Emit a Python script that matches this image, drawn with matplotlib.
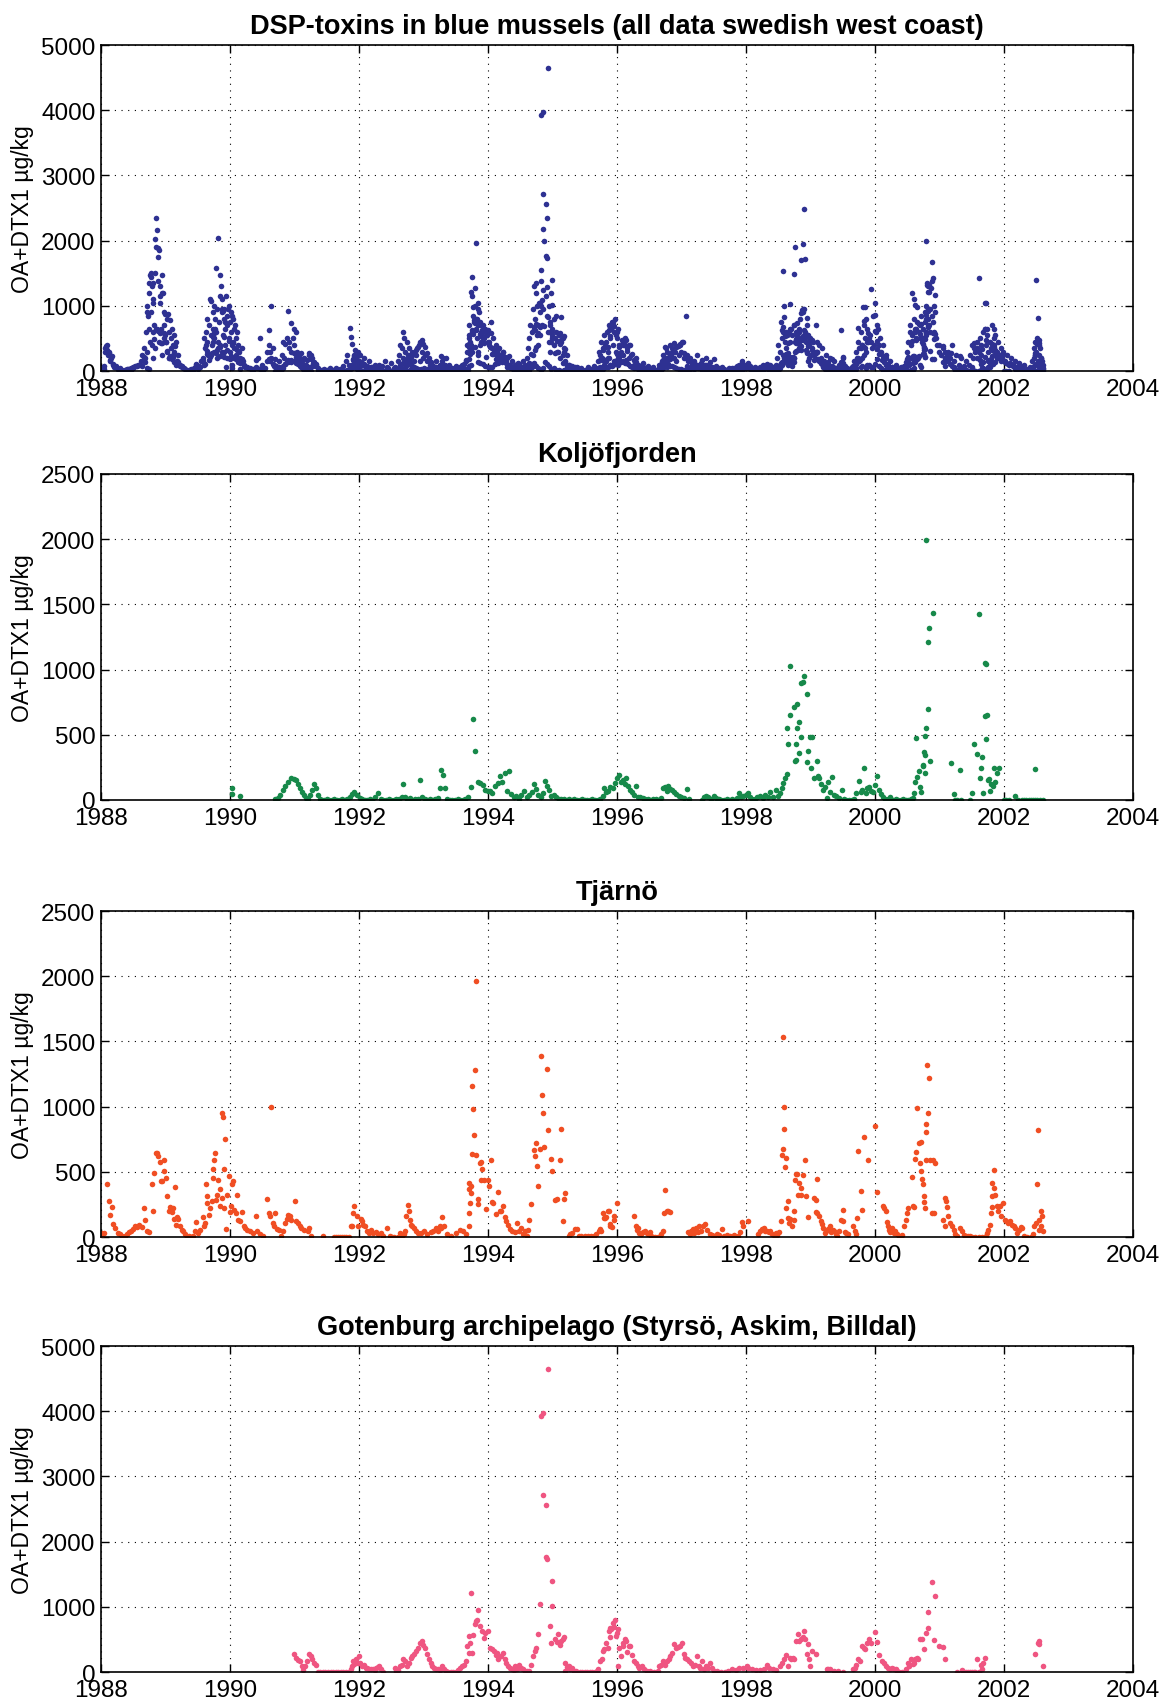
import numpy as np
import matplotlib.pyplot as plt

# values: (decimal year, OA+DTX1 ug/kg)
koljo = [
    (1990.03, 89), (1990.03, 48), (1990.15, 33),
    (1990.70, 5), (1990.74, 15), (1990.78, 40), (1990.82, 75), (1990.86, 110), (1990.90, 140),
    (1990.95, 172), (1990.99, 160), (1991.03, 150), (1991.06, 125), (1991.09, 90), (1991.12, 60),
    (1991.15, 40), (1991.18, 15), (1991.21, 5), (1991.24, 40), (1991.27, 80), (1991.30, 120),
    (1991.33, 95), (1991.36, 40), (1991.39, 10), (1991.42, 0), (1991.46, 0), (1991.50, 5),
    (1991.54, 0), (1991.58, 0), (1991.62, 10), (1991.66, 0), (1991.70, 0), (1991.74, 5),
    (1991.78, 0), (1991.82, 10), (1991.86, 25), (1991.89, 45), (1991.93, 60), (1991.97, 35),
    (1992.01, 15), (1992.05, 5), (1992.09, 0), (1992.13, 0), (1992.17, 5), (1992.21, 0),
    (1992.25, 20), (1992.30, 55), (1992.34, 10), (1992.38, 0), (1992.42, 0), (1992.46, 5),
    (1992.50, 0), (1992.54, 0), (1992.58, 10), (1992.62, 5), (1992.66, 25), (1992.68, 120),
    (1992.71, 20), (1992.75, 5), (1992.79, 15), (1992.83, 0), (1992.87, 5), (1992.91, 10),
    (1992.94, 150), (1992.98, 20), (1993.02, 5), (1993.06, 0), (1993.10, 10), (1993.14, 0),
    (1993.18, 5), (1993.22, 15), (1993.26, 90), (1993.28, 230), (1993.30, 195), (1993.33, 88),
    (1993.37, 5), (1993.41, 0), (1993.45, 0), (1993.49, 0), (1993.53, 5), (1993.57, 0),
    (1993.61, 0), (1993.65, 10), (1993.69, 20), (1993.73, 100), (1993.77, 620), (1993.80, 375),
    (1993.84, 140), (1993.88, 130), (1993.92, 115), (1993.96, 80), (1994.00, 65), (1994.03, 70),
    (1994.07, 55), (1994.11, 110), (1994.15, 130), (1994.18, 180), (1994.22, 140), (1994.26, 210),
    (1994.29, 70), (1994.32, 225), (1994.36, 45), (1994.40, 20), (1994.44, 30), (1994.48, 10),
    (1994.52, 40), (1994.56, 70), (1994.60, 20), (1994.64, 35), (1994.68, 60), (1994.71, 120),
    (1994.74, 85), (1994.78, 40), (1994.82, 20), (1994.86, 50), (1994.88, 145), (1994.91, 110),
    (1994.94, 75), (1994.98, 30), (1995.02, 40), (1995.06, 20), (1995.10, 10), (1995.14, 5),
    (1995.18, 10), (1995.22, 0), (1995.26, 5), (1995.30, 0), (1995.34, 10), (1995.38, 0),
    (1995.42, 0), (1995.46, 5), (1995.50, 0), (1995.54, 0), (1995.58, 0), (1995.62, 5),
    (1995.66, 0), (1995.70, 0), (1995.74, 5), (1995.78, 30), (1995.80, 90), (1995.83, 60),
    (1995.86, 70), (1995.90, 100), (1995.94, 95), (1995.97, 128), (1996.00, 166), (1996.03, 190),
    (1996.06, 140), (1996.09, 155), (1996.12, 120), (1996.14, 165), (1996.17, 110), (1996.20, 80),
    (1996.23, 60), (1996.26, 40), (1996.29, 107), (1996.32, 25), (1996.36, 20), (1996.40, 15),
    (1996.44, 10), (1996.48, 5), (1996.52, 0), (1996.56, 10), (1996.60, 5), (1996.64, 0),
    (1996.68, 15), (1996.72, 90), (1996.74, 100), (1996.77, 70), (1996.80, 105), (1996.83, 85),
    (1996.86, 75), (1996.89, 60), (1996.92, 45), (1996.96, 30), (1997.00, 25), (1997.04, 15),
    (1997.09, 84), (1997.12, 5),
    (1997.32, 0), (1997.35, 20), (1997.38, 30), (1997.42, 25), (1997.46, 10), (1997.50, 30),
    (1997.54, 15), (1997.58, 5), (1997.62, 0), (1997.66, 0), (1997.70, 5), (1997.74, 0),
    (1997.78, 10), (1997.82, 0), (1997.86, 15), (1997.89, 50), (1997.92, 20), (1997.96, 30),
    (1998.00, 40), (1998.04, 55), (1998.07, 25), (1998.10, 10), (1998.14, 5), (1998.18, 20),
    (1998.22, 30), (1998.26, 15), (1998.30, 40), (1998.34, 25), (1998.38, 60), (1998.42, 20),
    (1998.46, 75), (1998.50, 30), (1998.53, 50), (1998.56, 90), (1998.58, 128), (1998.60, 166),
    (1998.63, 197), (1998.64, 550), (1998.66, 430), (1998.68, 1031), (1998.69, 652), (1998.75, 711),
    (1998.76, 300), (1998.77, 430), (1998.78, 307), (1998.80, 737), (1998.80, 550), (1998.82, 358),
    (1998.83, 601), (1998.85, 483), (1998.86, 895), (1998.88, 903), (1998.90, 949), (1998.94, 811),
    (1998.94, 294), (1998.97, 379), (1998.99, 483), (1999.01, 243), (1999.03, 483), (1999.06, 170),
    (1999.10, 300), (1999.12, 180), (1999.14, 166), (1999.17, 120), (1999.20, 75), (1999.23, 100),
    (1999.26, 15), (1999.28, 140), (1999.30, 60), (1999.33, 179), (1999.36, 40), (1999.40, 30),
    (1999.44, 15), (1999.49, 77), (1999.52, 5), (1999.56, 0), (1999.60, 0), (1999.64, 0),
    (1999.68, 5), (1999.71, 50), (1999.75, 148), (1999.78, 60), (1999.80, 80), (1999.83, 248),
    (1999.86, 50), (1999.88, 90), (1999.91, 100), (1999.94, 70), (1999.97, 60), (2000.00, 115),
    (2000.03, 184), (2000.06, 80), (2000.09, 45), (2000.12, 20), (2000.16, 10), (2000.20, 5),
    (2000.24, 20), (2000.28, 0), (2000.32, 10), (2000.36, 0), (2000.40, 0), (2000.44, 5),
    (2000.48, 0), (2000.52, 0), (2000.56, 10), (2000.59, 18), (2000.60, 51), (2000.63, 135),
    (2000.64, 473), (2000.66, 179), (2000.69, 225), (2000.70, 100), (2000.72, 60), (2000.74, 268),
    (2000.74, 261), (2000.76, 366), (2000.77, 345), (2000.78, 491), (2000.78, 209), (2000.79, 555),
    (2000.79, 1990), (2000.82, 696), (2000.82, 1210), (2000.84, 1315), (2000.85, 302), (2000.90, 1435),
    (2001.18, 281), (2001.23, 43), (2001.25, 0), (2001.28, 0), (2001.32, 228), (2001.33, 0),
    (2001.47, 0), (2001.50, 56), (2001.54, 427), (2001.58, 350), (2001.61, 1427), (2001.63, 171),
    (2001.64, 243), (2001.66, 333), (2001.68, 51), (2001.70, 645), (2001.71, 1049), (2001.72, 471),
    (2001.73, 1044), (2001.74, 650), (2001.76, 150), (2001.77, 164), (2001.78, 69), (2001.80, 120),
    (2001.83, 110), (2001.84, 248), (2001.86, 140), (2001.90, 205), (2001.93, 248),
    (2002.00, 0), (2002.04, 0), (2002.08, 0), (2002.18, 33), (2002.22, 0), (2002.28, 0),
    (2002.32, 0), (2002.35, 0), (2002.39, 0), (2002.42, 0), (2002.45, 0), (2002.48, 240),
    (2002.49, 0), (2002.52, 0), (2002.56, 0), (2002.60, 0),
]

tjarno = [
    (1988.00, 30), (1988.02, 15), (1988.04, 31), (1988.09, 403), (1988.13, 280), (1988.14, 172),
    (1988.17, 231), (1988.19, 103), (1988.22, 69), (1988.26, 30), (1988.30, 20), (1988.33, 5),
    (1988.37, 10), (1988.40, 25), (1988.43, 35), (1988.47, 44), (1988.50, 60), (1988.53, 82),
    (1988.56, 75), (1988.59, 90), (1988.63, 80), (1988.67, 223), (1988.68, 133), (1988.72, 50),
    (1988.75, 35), (1988.79, 403), (1988.81, 197), (1988.82, 492), (1988.85, 641), (1988.87, 641),
    (1988.89, 620), (1988.91, 577), (1988.93, 428), (1988.95, 433), (1988.97, 505), (1988.98, 587),
    (1989.01, 449), (1989.02, 313), (1989.05, 197), (1989.07, 228), (1989.10, 190), (1989.11, 223),
    (1989.14, 138), (1989.15, 385), (1989.16, 95), (1989.18, 154), (1989.20, 138), (1989.23, 82),
    (1989.25, 56), (1989.27, 43), (1989.30, 25), (1989.33, 0), (1989.36, 5), (1989.40, 0),
    (1989.43, 5), (1989.46, 44), (1989.48, 113), (1989.51, 31), (1989.53, 56), (1989.58, 154),
    (1989.60, 87), (1989.62, 108), (1989.63, 403), (1989.64, 313), (1989.65, 262), (1989.67, 172),
    (1989.69, 223), (1989.72, 280), (1989.73, 449), (1989.74, 518), (1989.76, 590), (1989.77, 646),
    (1989.79, 282), (1989.80, 326), (1989.82, 441), (1989.84, 236), (1989.85, 372), (1989.87, 300),
    (1989.88, 954), (1989.89, 920), (1989.90, 223), (1989.91, 518), (1989.93, 754), (1989.94, 62),
    (1989.96, 326), (1989.98, 467), (1990.00, 190), (1990.02, 236), (1990.03, 403), (1990.05, 433),
    (1990.07, 205), (1990.09, 185), (1990.11, 321), (1990.13, 133), (1990.16, 120), (1990.19, 190),
    (1990.21, 82), (1990.24, 69), (1990.27, 56), (1990.31, 44), (1990.36, 31), (1990.40, 164),
    (1990.42, 44), (1990.47, 25), (1990.52, 10), (1990.58, 292), (1990.60, 185), (1990.62, 159),
    (1990.64, 997), (1990.66, 108), (1990.69, 82), (1990.70, 185), (1990.73, 62), (1990.76, 56),
    (1990.79, 5), (1990.82, 44), (1990.85, 108), (1990.88, 138), (1990.90, 172), (1990.93, 159),
    (1990.95, 133), (1991.01, 274), (1991.03, 120), (1991.05, 108), (1991.08, 82), (1991.10, 69),
    (1991.15, 56), (1991.21, 44), (1991.23, 69), (1991.26, 5), (1991.44, 5),
    (1991.62, 0), (1991.65, 0), (1991.68, 0), (1991.71, 0), (1991.74, 0), (1991.77, 0),
    (1991.80, 0), (1991.84, 0), (1991.87, 82), (1991.89, 82), (1991.91, 185), (1991.93, 236),
    (1991.97, 159), (1991.99, 82), (1992.03, 138), (1992.05, 120), (1992.07, 95), (1992.10, 82),
    (1992.12, 44), (1992.15, 31), (1992.19, 56), (1992.22, 31), (1992.26, 36), (1992.30, 23),
    (1992.34, 31), (1992.37, 5), (1992.44, 69), (1992.48, 5), (1992.52, 0), (1992.55, 0),
    (1992.60, 0), (1992.64, 31), (1992.66, 5), (1992.70, 25), (1992.72, 44), (1992.73, 159),
    (1992.76, 249), (1992.77, 197), (1992.79, 133), (1992.80, 95), (1992.83, 82), (1992.85, 69),
    (1992.88, 44), (1992.91, 31), (1992.96, 31), (1993.01, 44), (1993.06, 25), (1993.11, 36),
    (1993.15, 44), (1993.20, 69), (1993.23, 44), (1993.25, 82), (1993.27, 69), (1993.29, 154),
    (1993.32, 87), (1993.37, 25), (1993.42, 5), (1993.51, 31), (1993.56, 56), (1993.61, 44),
    (1993.66, 25), (1993.70, 82), (1993.71, 185), (1993.72, 262), (1993.73, 338), (1993.74, 395),
    (1993.70, 411), (1993.71, 365), (1993.75, 633), (1993.76, 1156), (1993.77, 982), (1993.79, 786),
    (1993.80, 1278), (1993.81, 1964), (1993.82, 628), (1993.84, 290), (1993.85, 250), (1993.87, 569),
    (1993.89, 575), (1993.89, 440), (1993.91, 518), (1993.94, 434), (1993.97, 217), (1994.00, 441),
    (1994.02, 395), (1994.05, 587), (1994.06, 268), (1994.08, 262), (1994.12, 180), (1994.15, 344),
    (1994.18, 200), (1994.20, 199), (1994.23, 237), (1994.26, 150), (1994.28, 120), (1994.31, 90),
    (1994.34, 64), (1994.38, 50), (1994.42, 40), (1994.45, 110), (1994.48, 45), (1994.51, 69),
    (1994.54, 20), (1994.57, 44), (1994.60, 10), (1994.62, 56), (1994.64, 130), (1994.67, 255),
    (1994.71, 671), (1994.73, 625), (1994.75, 722), (1994.76, 548), (1994.78, 395), (1994.80, 676),
    (1994.82, 1385), (1994.84, 1087), (1994.86, 952), (1994.87, 691), (1994.91, 1288), (1994.93, 824),
    (1994.98, 602), (1995.00, 510), (1995.04, 281), (1995.07, 288), (1995.12, 587), (1995.14, 829),
    (1995.16, 122), (1995.18, 288), (1995.19, 334), (1995.25, 5), (1995.28, 20), (1995.31, 30),
    (1995.35, 60), (1995.38, 62), (1995.41, 10), (1995.45, 5), (1995.50, 5), (1995.55, 5),
    (1995.60, 10), (1995.65, 5), (1995.68, 20), (1995.72, 45), (1995.74, 60), (1995.76, 45),
    (1995.78, 186), (1995.80, 148), (1995.81, 146), (1995.83, 150), (1995.86, 199), (1995.87, 197),
    (1995.89, 100), (1995.90, 85), (1995.92, 80), (1995.95, 159), (1995.96, 130), (1996.00, 263),
    (1996.27, 164), (1996.29, 82), (1996.31, 56), (1996.33, 69), (1996.35, 31), (1996.38, 25),
    (1996.40, 36), (1996.43, 44), (1996.46, 31), (1996.48, 25), (1996.51, 40), (1996.53, 5),
    (1996.56, 0), (1996.59, 0), (1996.63, 0), (1996.67, 0), (1996.69, 25), (1996.71, 44),
    (1996.73, 185), (1996.75, 364), (1996.77, 200), (1996.80, 203), (1996.83, 190),
    (1997.11, 36), (1997.13, 25), (1997.15, 44), (1997.18, 62), (1997.20, 31), (1997.23, 69),
    (1997.26, 40), (1997.28, 87), (1997.31, 50), (1997.34, 82), (1997.36, 100), (1997.39, 56),
    (1997.44, 25), (1997.47, 18), (1997.50, 5), (1997.55, 25), (1997.58, 18), (1997.63, 62),
    (1997.66, 10), (1997.71, 18), (1997.76, 10), (1997.82, 18), (1997.87, 5), (1997.91, 36),
    (1997.94, 118), (1997.95, 82), (1998.04, 126),
    (1998.19, 25), (1998.22, 44), (1998.25, 62), (1998.28, 69), (1998.30, 50), (1998.33, 44),
    (1998.36, 36), (1998.38, 44), (1998.41, 25), (1998.44, 18), (1998.46, 31), (1998.49, 18),
    (1998.51, 36), (1998.54, 121), (1998.56, 628), (1998.57, 1531), (1998.58, 672), (1998.59, 1000),
    (1998.59, 829), (1998.60, 536), (1998.62, 223), (1998.62, 607), (1998.65, 280), (1998.66, 146),
    (1998.67, 108), (1998.69, 138), (1998.72, 82), (1998.74, 133), (1998.75, 197), (1998.76, 441),
    (1998.78, 487), (1998.80, 485), (1998.81, 321), (1998.83, 415), (1998.85, 377), (1998.86, 326),
    (1998.89, 479), (1998.91, 590), (1998.93, 318), (1998.96, 154), (1999.05, 300), (1999.08, 190),
    (1999.09, 287), (1999.10, 446), (1999.10, 185), (1999.13, 159), (1999.16, 120), (1999.18, 102),
    (1999.20, 69), (1999.22, 31), (1999.24, 44), (1999.27, 62), (1999.30, 82), (1999.32, 36),
    (1999.35, 56), (1999.37, 44), (1999.39, 25), (1999.42, 5), (1999.45, 44), (1999.48, 133),
    (1999.50, 210), (1999.51, 120), (1999.53, 36), (1999.56, 31), (1999.59, 25), (1999.66, 82),
    (1999.69, 44), (1999.71, 25), (1999.73, 146), (1999.74, 663), (1999.78, 351), (1999.80, 205),
    (1999.83, 765), (1999.90, 587), (2000.00, 855), (2000.04, 346), (2000.12, 236), (2000.14, 223),
    (2000.17, 197), (2000.19, 113), (2000.20, 82), (2000.22, 51), (2000.24, 36), (2000.26, 69),
    (2000.29, 31), (2000.31, 44), (2000.34, 25), (2000.37, 5), (2000.40, 5), (2000.42, 18),
    (2000.45, 82), (2000.48, 133), (2000.50, 185), (2000.52, 223), (2000.57, 459), (2000.59, 236),
    (2000.60, 228), (2000.63, 600), (2000.64, 651), (2000.65, 987), (2000.68, 723), (2000.70, 569),
    (2000.71, 728), (2000.72, 505), (2000.73, 446), (2000.74, 410), (2000.76, 318), (2000.76, 269),
    (2000.77, 223), (2000.79, 587), (2000.80, 806), (2000.80, 867), (2000.81, 1316), (2000.83, 952),
    (2000.84, 1219), (2000.86, 594), (2000.89, 185), (2000.90, 587), (2000.92, 185), (2000.94, 569),
    (2001.06, 133), (2001.08, 300), (2001.09, 82), (2001.10, 275), (2001.12, 230), (2001.14, 159),
    (2001.16, 108), (2001.19, 82), (2001.22, 56), (2001.25, 25), (2001.28, 10), (2001.32, 69),
    (2001.35, 44), (2001.38, 18), (2001.41, 10), (2001.44, 5), (2001.47, 5), (2001.51, 0),
    (2001.56, 0), (2001.61, 0), (2001.66, 0), (2001.72, 5), (2001.74, 31), (2001.76, 56),
    (2001.78, 95), (2001.80, 185), (2001.81, 230), (2001.82, 318), (2001.82, 416), (2001.84, 513),
    (2001.85, 375), (2001.86, 325), (2001.89, 236), (2001.91, 197), (2001.94, 236), (2001.96, 159),
    (2001.99, 262), (2002.02, 133), (2002.04, 120), (2002.07, 108), (2002.10, 120), (2002.12, 95),
    (2002.15, 82), (2002.18, 69), (2002.20, 31), (2002.23, 56), (2002.26, 77), (2002.28, 69),
    (2002.31, 5), (2002.36, 0), (2002.42, 0), (2002.45, 25), (2002.47, 82), (2002.50, 108),
    (2002.51, 410), (2002.53, 818), (2002.54, 56), (2002.55, 133), (2002.57, 82), (2002.58, 197),
    (2002.59, 159), (2002.60, 44),
]

goteborg = [
    (1990.99, 270), (1991.03, 219), (1991.06, 190), (1991.09, 168), (1991.12, 90), (1991.14, 30),
    (1991.17, 90), (1991.20, 168), (1991.22, 270), (1991.25, 245), (1991.27, 200), (1991.30, 140),
    (1991.33, 115), (1991.36, 0), (1991.40, 0), (1991.44, 0), (1991.48, 0), (1991.52, 0),
    (1991.56, 0), (1991.60, 0), (1991.64, 0), (1991.68, 0), (1991.72, 0), (1991.76, 0),
    (1991.80, 0), (1991.84, 5), (1991.87, 40), (1991.89, 90), (1991.91, 168), (1991.93, 120),
    (1991.95, 204), (1991.98, 140), (1992.00, 245), (1992.02, 140), (1992.05, 90), (1992.08, 115),
    (1992.11, 65), (1992.13, 65), (1992.16, 40), (1992.19, 50), (1992.22, 40), (1992.25, 30),
    (1992.27, 65), (1992.29, 80), (1992.31, 90), (1992.34, 50), (1992.38, 0), (1992.56, 65),
    (1992.58, 0), (1992.61, 30), (1992.64, 90), (1992.66, 115), (1992.68, 194), (1992.71, 168),
    (1992.74, 90), (1992.77, 140), (1992.80, 219), (1992.83, 245), (1992.86, 270), (1992.89, 321),
    (1992.92, 372), (1992.95, 449), (1992.98, 474), (1992.99, 420), (1993.02, 372), (1993.05, 270),
    (1993.08, 194), (1993.11, 140), (1993.14, 90), (1993.17, 65), (1993.20, 40), (1993.23, 40),
    (1993.26, 30), (1993.29, 90), (1993.32, 40), (1993.35, 10), (1993.38, 0), (1993.42, 0),
    (1993.46, 0), (1993.50, 0), (1993.54, 30), (1993.57, 65), (1993.60, 90), (1993.63, 115),
    (1993.66, 168), (1993.68, 398), (1993.70, 551), (1993.71, 300), (1993.72, 449), (1993.74, 1214),
    (1993.75, 300), (1993.77, 561), (1993.80, 730), (1993.82, 780), (1993.83, 806), (1993.85, 959),
    (1993.88, 704), (1993.91, 628), (1993.94, 520), (1993.96, 602), (1994.00, 628), (1994.03, 372),
    (1994.06, 347), (1994.09, 321), (1994.12, 260), (1994.14, 296), (1994.16, 194), (1994.20, 245),
    (1994.23, 296), (1994.26, 194), (1994.28, 140), (1994.31, 90), (1994.34, 65), (1994.37, 40),
    (1994.40, 30), (1994.42, 90), (1994.45, 40), (1994.48, 115), (1994.51, 65), (1994.55, 40),
    (1994.58, 15), (1994.61, 10), (1994.64, 15), (1994.67, 115), (1994.70, 245), (1994.73, 321),
    (1994.75, 372), (1994.77, 577), (1994.80, 1051), (1994.83, 3934), (1994.86, 3969), (1994.86, 2709),
    (1994.90, 2556), (1994.90, 1760), (1994.91, 1740), (1994.93, 4648), (1994.96, 714), (1994.98, 449),
    (1994.99, 1020), (1995.00, 1393), (1995.04, 500), (1995.07, 460), (1995.08, 577), (1995.11, 420),
    (1995.13, 470), (1995.16, 510), (1995.18, 541), (1995.19, 140), (1995.20, 15), (1995.23, 80),
    (1995.25, 90), (1995.28, 40), (1995.31, 60), (1995.34, 10), (1995.37, 15), (1995.42, 0),
    (1995.46, 0), (1995.50, 0), (1995.54, 0), (1995.58, 0), (1995.62, 0), (1995.66, 5),
    (1995.69, 10), (1995.71, 40), (1995.74, 168), (1995.77, 194), (1995.79, 321), (1995.80, 347),
    (1995.83, 449), (1995.86, 372), (1995.87, 628), (1995.89, 679), (1995.90, 540), (1995.91, 653),
    (1995.94, 755), (1995.96, 690), (1995.97, 806), (1995.99, 560), (1996.00, 602), (1996.01, 653),
    (1996.02, 90), (1996.03, 372), (1996.06, 245), (1996.09, 398), (1996.10, 449), (1996.13, 500),
    (1996.14, 474), (1996.16, 306), (1996.18, 398), (1996.21, 398), (1996.23, 255), (1996.26, 168),
    (1996.29, 140), (1996.32, 100), (1996.35, 65), (1996.39, 90), (1996.42, 40), (1996.46, 15),
    (1996.52, 15), (1996.58, 0), (1996.63, 15), (1996.66, 90), (1996.69, 115), (1996.72, 168),
    (1996.75, 115), (1996.78, 168), (1996.81, 194), (1996.83, 245), (1996.86, 296), (1996.89, 423),
    (1996.92, 372), (1996.95, 388), (1996.98, 398), (1997.01, 449), (1997.04, 270), (1997.06, 219),
    (1997.09, 194), (1997.12, 168), (1997.15, 140), (1997.18, 90), (1997.21, 115), (1997.24, 245),
    (1997.27, 90), (1997.29, 65), (1997.32, 168), (1997.35, 40), (1997.38, 90), (1997.41, 65),
    (1997.44, 140), (1997.47, 65), (1997.50, 15), (1997.55, 15), (1997.61, 0), (1997.67, 0),
    (1997.72, 15), (1997.78, 40), (1997.84, 30), (1997.90, 65), (1997.96, 65), (1998.01, 90),
    (1998.04, 65), (1998.10, 40), (1998.16, 30), (1998.22, 30), (1998.28, 40), (1998.33, 102),
    (1998.36, 65), (1998.42, 40), (1998.47, 30), (1998.53, 90), (1998.56, 140), (1998.59, 194),
    (1998.62, 255), (1998.65, 100), (1998.68, 219), (1998.70, 205), (1998.73, 219), (1998.75, 205),
    (1998.77, 474), (1998.81, 577), (1998.83, 474), (1998.86, 500), (1998.88, 536), (1998.90, 628),
    (1998.92, 500), (1998.95, 270), (1998.97, 423), (1998.98, 194), (1999.00, 90), (1999.02, 321),
    (1999.09, 281), (1999.25, 40), (1999.28, 50), (1999.31, 40), (1999.37, 15), (1999.43, 15),
    (1999.51, 0), (1999.66, 40), (1999.69, 65), (1999.71, 115), (1999.74, 194), (1999.77, 168),
    (1999.80, 398), (1999.83, 372), (1999.85, 347), (1999.88, 449), (1999.91, 500), (1999.94, 449),
    (2000.00, 617), (2000.03, 459), (2000.07, 255), (2000.11, 168), (2000.14, 133), (2000.17, 90),
    (2000.20, 65), (2000.23, 40), (2000.26, 65), (2000.29, 40), (2000.32, 50), (2000.35, 15),
    (2000.38, 0), (2000.42, 0), (2000.48, 40), (2000.51, 133), (2000.53, 90), (2000.56, 204),
    (2000.59, 128), (2000.61, 140), (2000.63, 194), (2000.65, 219), (2000.67, 194), (2000.70, 510),
    (2000.73, 510), (2000.76, 357), (2000.79, 592), (2000.82, 929), (2000.83, 679), (2000.89, 1378),
    (2000.91, 490), (2000.93, 1173), (2000.99, 398), (2001.06, 383), (2001.09, 194),
    (2001.28, 0), (2001.35, 30), (2001.38, 0), (2001.41, 0), (2001.44, 0), (2001.47, 0),
    (2001.50, 0), (2001.53, 0), (2001.56, 0), (2001.59, 194), (2001.62, 0), (2001.64, 115),
    (2001.66, 40), (2001.68, 140), (2001.70, 219),
    (2002.49, 281), (2002.53, 449), (2002.54, 430), (2002.55, 474), (2002.61, 92),
]

# remaining stations, only in the "all data" panel
other_stations = [
    (1988.00, 50), (1988.02, 20), (1988.04, 80), (1988.06, 350), (1988.07, 300), (1988.08, 380),
    (1988.10, 320), (1988.11, 250), (1988.12, 300), (1988.14, 150), (1988.16, 200), (1988.18, 100),
    (1988.20, 60), (1988.23, 80), (1988.26, 30), (1988.30, 40), (1988.33, 20), (1988.37, 10),
    (1988.42, 30), (1988.46, 20), (1988.50, 50), (1988.55, 80), (1988.58, 100), (1988.62, 150),
    (1988.64, 250), (1988.66, 350), (1988.68, 200), (1988.70, 600), (1988.71, 900), (1988.72, 1000),
    (1988.73, 850), (1988.74, 1200), (1988.75, 1350), (1988.76, 1480), (1988.77, 1500), (1988.78, 1450),
    (1988.79, 1300), (1988.80, 1350), (1988.80, 1100), (1988.81, 1050), (1988.82, 700), (1988.83, 2020),
    (1988.84, 1500), (1988.85, 1900), (1988.86, 2350), (1988.87, 2170), (1988.88, 1750), (1988.88, 1380),
    (1988.89, 1880), (1988.90, 1850), (1988.91, 1300), (1988.92, 1150), (1988.92, 1050), (1988.93, 650),
    (1988.94, 1200), (1988.95, 1480), (1988.96, 1200), (1988.97, 900), (1988.98, 700), (1988.99, 550),
    (1989.00, 880), (1989.01, 450), (1989.02, 800), (1989.03, 300), (1989.04, 870), (1989.05, 600),
    (1989.06, 200), (1989.07, 780), (1989.08, 500), (1989.09, 350), (1989.10, 650), (1989.11, 400),
    (1989.12, 250), (1989.13, 550), (1989.14, 300), (1989.16, 450), (1989.18, 150), (1989.20, 250),
    (1989.22, 100), (1989.25, 80), (1989.28, 40), (1989.32, 20), (1988.72, 300), (1988.76, 450),
    (1988.80, 600), (1988.84, 350), (1988.90, 450), (1988.95, 250), (1988.74, 650), (1988.78, 900),
    (1989.36, 10), (1989.40, 30), (1989.44, 50), (1989.48, 100), (1989.52, 80), (1989.55, 150),
    (1989.58, 200), (1989.60, 500), (1989.62, 350), (1989.63, 600), (1989.65, 450), (1989.66, 250),
    (1989.68, 700), (1989.69, 1100), (1989.70, 550), (1989.71, 1080), (1989.72, 400), (1989.73, 650),
    (1989.74, 900), (1989.75, 500), (1989.76, 1000), (1989.77, 800), (1989.78, 1580), (1989.79, 600),
    (1989.80, 950), (1989.81, 350), (1989.82, 2040), (1989.83, 750), (1989.84, 1480), (1989.85, 1150),
    (1989.86, 1300), (1989.87, 900), (1989.88, 1100), (1989.89, 550), (1989.90, 800), (1989.91, 950),
    (1989.92, 650), (1989.93, 400), (1989.94, 1150), (1989.95, 850), (1989.96, 700), (1989.97, 950),
    (1989.98, 500), (1989.99, 1000), (1990.00, 750), (1990.01, 900), (1990.02, 600), (1990.03, 850),
    (1990.04, 450), (1990.05, 800), (1990.06, 650), (1990.07, 350), (1990.08, 700), (1990.09, 500),
    (1990.10, 250), (1990.11, 600), (1990.12, 400), (1990.14, 300), (1990.16, 200), (1990.18, 350),
    (1990.20, 150), (1990.22, 100), (1990.25, 60), (1990.28, 40), (1990.32, 30), (1989.64, 800),
    (1989.70, 250), (1989.75, 300), (1989.80, 200), (1989.85, 400), (1989.90, 300), (1989.95, 200),
    (1990.00, 300), (1990.35, 10), (1990.40, 60), (1990.44, 200), (1990.46, 500), (1990.50, 100),
    (1990.54, 50), (1990.57, 150), (1990.60, 630), (1990.61, 400), (1990.62, 300), (1990.64, 200),
    (1990.66, 350), (1990.68, 100), (1990.72, 80), (1990.76, 150), (1990.80, 250), (1990.82, 450),
    (1990.84, 200), (1990.86, 420), (1990.88, 500), (1990.90, 920), (1990.91, 350), (1990.92, 450),
    (1990.94, 730), (1990.95, 300), (1990.97, 500), (1990.99, 650), (1991.00, 400), (1991.02, 600),
    (1991.04, 300), (1991.06, 250), (1991.08, 200), (1991.10, 280), (1991.12, 150), (1991.15, 200),
    (1991.18, 100), (1991.22, 250), (1991.25, 180), (1991.28, 120), (1991.32, 80), (1991.38, 20),
    (1991.42, 10), (1991.46, 30), (1991.50, 10), (1991.55, 40), (1991.60, 20), (1991.65, 50),
    (1991.70, 30), (1991.75, 80), (1991.80, 150), (1991.82, 250), (1991.84, 100), (1991.86, 660),
    (1991.88, 520), (1991.90, 420), (1991.92, 250), (1991.94, 330), (1991.96, 200), (1991.98, 300),
    (1992.00, 150), (1992.02, 250), (1992.05, 100), (1992.08, 200), (1992.12, 80), (1992.15, 150),
    (1992.20, 60), (1992.25, 100), (1992.32, 30), (1992.36, 80), (1992.40, 150), (1992.45, 50),
    (1992.50, 120), (1992.55, 40), (1992.60, 150), (1992.62, 250), (1992.64, 400), (1992.66, 350),
    (1992.68, 600), (1992.70, 500), (1992.72, 300), (1992.74, 450), (1992.76, 200), (1992.78, 350),
    (1992.80, 250), (1992.82, 300), (1992.85, 150), (1992.88, 250), (1992.90, 350), (1992.93, 400),
    (1992.96, 450), (1992.98, 300), (1993.00, 200), (1993.03, 250), (1993.06, 150), (1993.10, 100),
    (1993.15, 80), (1993.20, 150), (1993.25, 50), (1993.30, 30), (1993.35, 200), (1993.40, 100),
    (1993.45, 50), (1993.50, 80), (1993.55, 30), (1993.60, 60), (1993.66, 150), (1993.68, 300),
    (1993.70, 500), (1993.71, 700), (1993.72, 400), (1993.75, 1450), (1993.76, 600), (1993.77, 850),
    (1993.79, 750), (1993.80, 1000), (1993.81, 650), (1993.82, 800), (1993.83, 500), (1993.84, 1050),
    (1993.85, 700), (1993.86, 900), (1993.87, 400), (1993.88, 750), (1993.90, 600), (1993.92, 700),
    (1993.94, 500), (1993.96, 650), (1993.98, 550), (1994.00, 600), (1994.02, 450), (1994.04, 750),
    (1994.06, 350), (1994.08, 500), (1994.10, 300), (1994.12, 400), (1994.14, 250), (1994.17, 350),
    (1994.20, 200), (1994.23, 300), (1994.26, 150), (1994.30, 200), (1994.34, 100), (1994.38, 150),
    (1994.42, 50), (1994.46, 120), (1994.50, 80), (1994.54, 150), (1994.58, 100), (1994.60, 200),
    (1994.62, 350), (1994.64, 500), (1994.66, 700), (1994.68, 600), (1994.70, 950), (1994.71, 650),
    (1994.72, 1300), (1994.73, 800), (1994.74, 1200), (1994.75, 1350), (1994.76, 1000), (1994.77, 700),
    (1994.79, 1050), (1994.80, 550), (1994.81, 900), (1994.82, 1000), (1994.83, 1550), (1994.84, 700),
    (1994.85, 2180), (1994.86, 1250), (1994.87, 2000), (1994.90, 1150), (1994.91, 2350), (1994.92, 850),
    (1994.93, 600), (1994.94, 1000), (1994.95, 450), (1994.96, 750), (1994.97, 300), (1994.98, 1200),
    (1994.99, 550), (1995.00, 650), (1995.02, 800), (1995.03, 400), (1995.05, 600), (1995.06, 850),
    (1995.08, 300), (1995.10, 550), (1995.12, 200), (1995.14, 450), (1995.16, 250), (1995.18, 350),
    (1995.20, 150), (1995.23, 250), (1995.26, 100), (1995.30, 80), (1995.32, 20), (1995.36, 50),
    (1995.40, 10), (1995.45, 40), (1995.50, 20), (1995.55, 60), (1995.60, 30), (1995.65, 80),
    (1995.70, 150), (1995.72, 300), (1995.74, 250), (1995.76, 450), (1995.78, 350), (1995.80, 550),
    (1995.82, 400), (1995.84, 600), (1995.86, 300), (1995.88, 700), (1995.89, 500), (1995.91, 650),
    (1995.93, 750), (1995.94, 400), (1995.96, 600), (1995.98, 300), (1996.00, 500), (1996.02, 200),
    (1996.04, 400), (1996.06, 300), (1996.08, 480), (1996.10, 250), (1996.12, 400), (1996.14, 150),
    (1996.16, 350), (1996.18, 200), (1996.22, 250), (1996.26, 100), (1996.30, 200), (1996.35, 80),
    (1996.40, 120), (1996.44, 40), (1996.48, 80), (1996.52, 30), (1996.56, 60), (1996.60, 20),
    (1996.65, 50), (1996.70, 150), (1996.72, 250), (1996.74, 200), (1996.76, 350), (1996.78, 300),
    (1996.80, 200), (1996.82, 400), (1996.84, 250), (1996.86, 350), (1996.88, 200), (1996.90, 300),
    (1996.92, 150), (1996.94, 380), (1996.96, 250), (1996.98, 420), (1997.00, 300), (1997.02, 450),
    (1997.04, 200), (1997.07, 850), (1997.08, 250), (1997.10, 150), (1997.13, 200), (1997.16, 100),
    (1997.20, 150), (1997.25, 80), (1997.30, 120), (1997.35, 50), (1997.38, 200), (1997.42, 100),
    (1997.46, 60), (1997.50, 180), (1997.54, 80), (1997.58, 40), (1997.62, 20), (1997.66, 30),
    (1997.70, 10), (1997.74, 40), (1997.78, 20), (1997.82, 50), (1997.86, 80), (1997.90, 100),
    (1997.94, 150), (1997.98, 100), (1998.02, 60), (1998.06, 80), (1998.10, 40), (1998.14, 70),
    (1998.18, 30), (1998.22, 60), (1998.26, 100), (1998.30, 80), (1998.34, 40), (1998.38, 90),
    (1998.42, 60), (1998.46, 100), (1998.48, 200), (1998.50, 400), (1998.53, 300), (1998.55, 750),
    (1998.56, 500), (1998.57, 600), (1998.58, 250), (1998.60, 450), (1998.62, 350), (1998.64, 550),
    (1998.67, 600), (1998.68, 450), (1998.70, 650), (1998.72, 550), (1998.74, 1490), (1998.75, 700),
    (1998.76, 1910), (1998.78, 600), (1998.80, 500), (1998.82, 650), (1998.84, 800), (1998.86, 1700),
    (1998.87, 930), (1998.88, 1950), (1998.89, 950), (1998.90, 2480), (1998.91, 600), (1998.92, 1720),
    (1998.93, 450), (1998.95, 700), (1998.96, 550), (1998.98, 400), (1999.00, 500), (1999.02, 350),
    (1999.04, 450), (1999.06, 250), (1999.09, 700), (1999.11, 300), (1999.13, 400), (1999.16, 200),
    (1999.18, 350), (1999.21, 150), (1999.24, 250), (1999.27, 100), (1999.30, 200), (1999.33, 80),
    (1999.36, 150), (1999.40, 50), (1999.44, 100), (1999.48, 630), (1999.50, 200), (1999.53, 80),
    (1999.57, 40), (1999.61, 20), (1999.65, 60), (1999.68, 150), (1999.70, 300), (1999.72, 200),
    (1999.74, 450), (1999.76, 350), (1999.78, 600), (1999.80, 400), (1999.82, 990), (1999.83, 700),
    (1999.84, 990), (1999.85, 500), (1999.86, 800), (1999.87, 300), (1999.88, 650), (1999.90, 450),
    (1999.92, 550), (1999.94, 1260), (1999.95, 350), (1999.97, 850), (1999.99, 400), (2000.00, 1050),
    (2000.01, 600), (2000.03, 700), (2000.05, 650), (2000.06, 400), (2000.08, 500), (2000.10, 300),
    (2000.12, 400), (2000.14, 200), (2000.17, 250), (2000.20, 100), (2000.24, 150), (2000.28, 50),
    (2000.32, 100), (2000.36, 30), (2000.40, 60), (2000.44, 20), (2000.48, 80), (2000.50, 300),
    (2000.52, 450), (2000.54, 600), (2000.55, 700), (2000.56, 400), (2000.57, 1200), (2000.58, 550),
    (2000.60, 800), (2000.61, 1100), (2000.62, 650), (2000.63, 1020), (2000.64, 500), (2000.66, 750),
    (2000.68, 600), (2000.70, 700), (2000.72, 850), (2000.74, 500), (2000.75, 650), (2000.77, 900),
    (2000.78, 750), (2000.79, 1000), (2000.80, 600), (2000.81, 1350), (2000.82, 800), (2000.83, 1300),
    (2000.84, 700), (2000.86, 950), (2000.87, 1280), (2000.88, 850), (2000.89, 1680), (2000.90, 750),
    (2000.91, 1000), (2000.92, 600), (2000.93, 900), (2000.95, 500), (2000.97, 400), (2000.99, 300),
    (2001.02, 250), (2001.05, 350), (2001.08, 200), (2001.11, 150), (2001.14, 300), (2001.17, 200),
    (2001.20, 400), (2001.23, 150), (2001.26, 250), (2001.30, 100), (2001.34, 200), (2001.38, 80),
    (2001.42, 150), (2001.46, 100), (2001.48, 250), (2001.50, 400), (2001.52, 200), (2001.54, 350),
    (2001.56, 300), (2001.58, 450), (2001.61, 300), (2001.63, 500), (2001.65, 400), (2001.68, 600),
    (2001.70, 650), (2001.72, 400), (2001.74, 550), (2001.76, 300), (2001.78, 450), (2001.80, 350),
    (2001.82, 700), (2001.84, 650), (2001.85, 400), (2001.87, 550), (2001.89, 300), (2001.91, 450),
    (2001.93, 250), (2001.95, 350), (2001.97, 200), (2001.99, 300), (2002.02, 150), (2002.05, 250),
    (2002.08, 100), (2002.11, 200), (2002.14, 80), (2002.17, 150), (2002.20, 60), (2002.24, 120),
    (2002.28, 50), (2002.32, 100), (2002.36, 30), (2002.40, 60), (2002.44, 150), (2002.46, 200),
    (2002.47, 350), (2002.48, 250), (2002.49, 450), (2002.50, 1400), (2002.505, 300), (2002.52, 500),
    (2002.53, 150), (2002.54, 400), (2002.55, 250), (2002.56, 350), (2002.57, 100), (2002.58, 200),
    (2002.59, 50), (2002.60, 30),
]

titles = [
    'DSP-toxins in blue mussels (all data swedish west coast)',
    'Koljöfjorden',
    'Tjärnö',
    'Gotenburg archipelago (Styrsö, Askim, Billdal)',
]
ylims = [5000, 2500, 2500, 5000]
ysteps = [1000, 500, 500, 1000]
colors = ['#2e3192', '#17894a', '#f04e23', '#ef5581']
years = np.arange(1988, 2005, 2)

all_data = koljo + tjarno + goteborg + other_stations
series = [all_data, koljo, tjarno, goteborg]

plt.rcParams['font.family'] = ['Liberation Sans', 'DejaVu Sans']

fig = plt.figure(figsize=(11.62, 17.06), dpi=100)
bottoms = [0.7819, 0.5305, 0.2743, 0.0193]

for i in range(4):
    ax = fig.add_axes([0.0869, bottoms[i], 0.888, 0.1911])
    t, v = np.array(series[i]).T
    ax.plot(t, v, 'o', color=colors[i], markersize=4.0, markeredgewidth=0)
    ax.set_xlim(1988, 2004)
    ax.set_ylim(0, ylims[i])
    ax.set_xticks(years)
    ax.set_yticks(np.arange(0, ylims[i] + 1, ysteps[i]))
    ax.tick_params(direction='in', top=True, right=True, length=6, width=1,
                   labelsize=17.5)
    ax.tick_params(axis='x', pad=5)
    ax.tick_params(axis='y', pad=4)
    ax.grid(True, color='black', linestyle=(0, (1, 5)), linewidth=0.8)
    for s in ax.spines.values():
        s.set_linewidth(1.2)
    ax.set_title(titles[i], fontsize=19.5, fontweight='bold', pad=9)
    ax.set_ylabel('OA+DTX1 µg/kg', fontsize=16.5, labelpad=5)

fig.savefig('out.png', dpi=100)
